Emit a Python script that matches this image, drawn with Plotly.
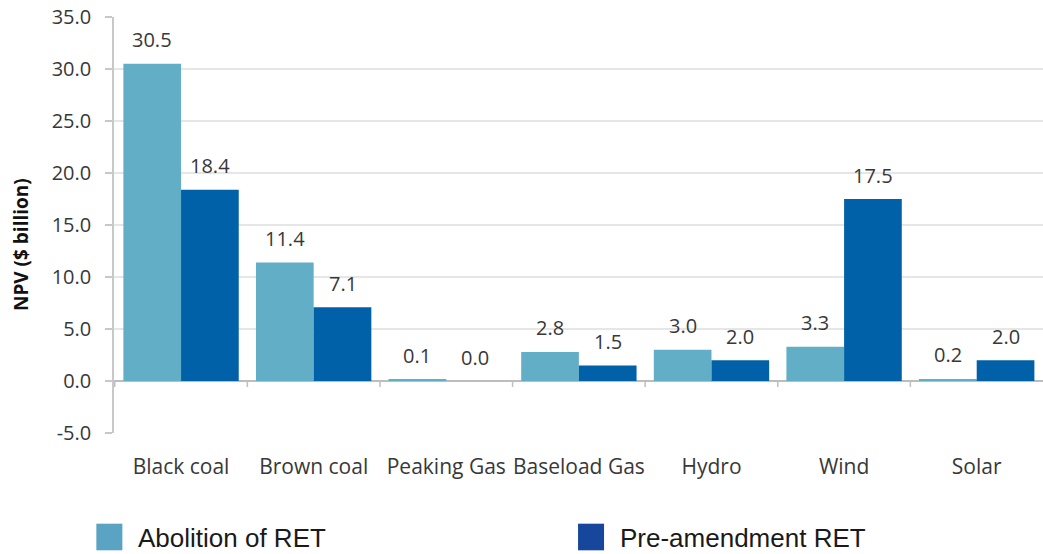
import plotly.graph_objects as go

# NPV by generation technology under two RET scenarios ($ billion)
categories = ["Black coal", "Brown coal", "Peaking Gas", "Baseload Gas", "Hydro", "Wind", "Solar"]
series_names = ["Abolition of RET", "Pre-amendment RET"]
abolition = [30.5, 11.4, 0.1, 2.8, 3.0, 3.3, 0.2]
pre_amendment = [18.4, 7.1, 0.0, 1.5, 2.0, 17.5, 2.0]
y_ticks = [-5, 0, 5, 10, 15, 20, 25, 30, 35]
y_title = "NPV ($ billion)"

bar_colors = ["#62AEC6", "#0060A8"]
legend_colors = ["#5BA3C3", "#17479C"]
tick_font = dict(family="Open Sans", size=20, color="#383838")
cat_font = dict(family="Open Sans", size=21, color="#383838")

BARGAP = 0.13
half_w = (1 - BARGAP) / 2  # width of one bar in category units

fig = go.Figure()
for name, vals, col in zip(series_names, [abolition, pre_amendment], bar_colors):
    fig.add_trace(go.Bar(x=categories, y=vals, name=name, marker=dict(color=col, line_width=0),
                         showlegend=False))

# value labels above each bar
annotations = []
for s, vals in enumerate([abolition, pre_amendment]):
    offset = -half_w / 2 if s == 0 else half_w / 2
    for i, v in enumerate(vals):
        annotations.append(dict(x=i + offset, y=v, xref="x", yref="y", text=f"{v:.1f}",
                                showarrow=False, yanchor="middle", yshift=24, font=tick_font))

# rotated y-axis title, sitting slightly below the axis midpoint
annotations.append(dict(xref="paper", yref="paper", x=-0.1, y=0.452, text=f"<b>{y_title}</b>",
                        textangle=-90, showarrow=False, xanchor="center", yanchor="middle",
                        font=dict(family="Open Sans", size=19, color="#111111")))

# small tick marks on the zero line between categories
shapes = []
for i in range(len(categories)):
    shapes.append(dict(type="line", xref="x", yref="y", x0=i - 0.5, x1=i - 0.5,
                       ysizemode="pixel", yanchor=0, y0=0, y1=-6,
                       line=dict(color="#BFBFBF", width=1.5)))

# legend row below the chart
legend_x = [-0.019, 0.4995]
for name, col, lx in zip(series_names, legend_colors, legend_x):
    shapes.append(dict(type="rect", xref="paper", yref="paper", x0=lx, x1=lx + 0.028,
                       y0=-0.218, y1=-0.282, fillcolor=col, line_width=0, layer="above"))
    annotations.append(dict(xref="paper", yref="paper", x=lx + 0.043, y=-0.252, text=name,
                            showarrow=False, xanchor="left", yanchor="middle",
                            font=dict(family="Liberation Sans", size=26, color="#1A1A1A")))

fig.update_layout(
    width=1043, height=554,
    margin=dict(l=114, r=0, t=17, b=121),
    paper_bgcolor="white", plot_bgcolor="white",
    barmode="group", bargap=BARGAP, bargroupgap=0,
    annotations=annotations, shapes=shapes,
    showlegend=False,
)
fig.update_xaxes(showgrid=False, showline=False, ticks="", tickfont=cat_font,
                 ticklabelstandoff=19)
fig.update_yaxes(range=[-5, 35], tickvals=y_ticks, ticktext=[f"{t:.1f}" for t in y_ticks],
                 tickfont=tick_font, showgrid=True, gridcolor="#E6E6E6", gridwidth=1.5,
                 zeroline=True, zerolinecolor="#BDBDBD", zerolinewidth=1.5,
                 showline=True, linecolor="#C8C8C8", linewidth=1.5,
                 ticks="outside", ticklen=7, tickcolor="#C8C8C8", tickwidth=1.5,
                 ticklabelstandoff=10)

fig.write_html("out.html")
